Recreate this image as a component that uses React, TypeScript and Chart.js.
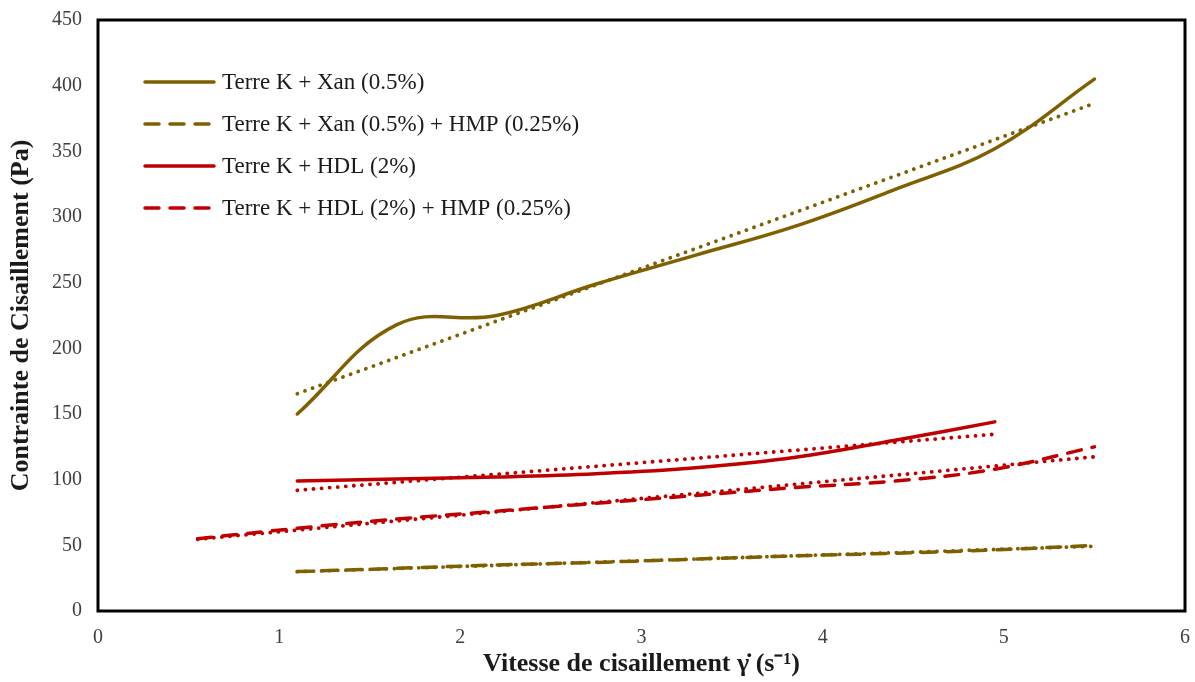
import React, { useEffect, useRef } from "react";
import { Chart, registerables } from "chart.js";

Chart.register(...registerables);

// ---- data ----
const seriesLabels = [
  "Terre K + Xan (0.5%)",
  "Terre K + Xan (0.5%) + HMP (0.25%)",
  "Terre K + HDL (2%)",
  "Terre K + HDL (2%) + HMP (0.25%)",
];

const xanX = [1.1, 1.65, 2.2, 2.75, 3.3, 3.85, 4.4, 4.95, 5.5];
const xanY = [150, 218, 225, 249, 271, 293, 321, 352, 405];

const xanHmpX = [1.1, 1.65, 2.2, 2.75, 3.3, 3.85, 4.4, 4.95, 5.5];
const xanHmpY = [30, 32.5, 35, 37, 39.5, 42, 44, 46.5, 50];

const hdlX = [1.1, 1.65, 2.2, 2.75, 3.3, 3.85, 4.4, 4.95];
const hdlY = [99, 100.5, 102, 104.5, 109, 117, 130, 144];

const hdlHmpX = [0.55, 1.1, 1.65, 2.2, 2.75, 3.3, 3.85, 4.4, 4.95, 5.5];
const hdlHmpY = [55, 63, 70, 76, 82, 88, 94, 99, 108, 125];

const xTickMin = 0;
const xTickMax = 6;
const yTickMin = 0;
const yTickMax = 450;
const yTickStep = 50;

const xTitle = "Vitesse de cisaillement \u03b3\u0307 (s\u207b\u00b9)";
const yTitle = "Contrainte de Cisaillement (Pa)";

const BROWN = "#7F6000";
const RED = "#C00000";

// linear trendline (least squares), as Excel does
function trend(xs: number[], ys: number[]) {
  const n = xs.length;
  const mx = xs.reduce((a, b) => a + b, 0) / n;
  const my = ys.reduce((a, b) => a + b, 0) / n;
  let sxy = 0,
    sxx = 0;
  for (let i = 0; i < n; i++) {
    sxy += (xs[i] - mx) * (ys[i] - my);
    sxx += (xs[i] - mx) * (xs[i] - mx);
  }
  const b = sxy / sxx;
  const a = my - b * mx;
  const x0 = xs[0];
  const x1 = xs[n - 1];
  return [
    { x: x0, y: a + b * x0 },
    { x: x1, y: a + b * x1 },
  ];
}

const pts = (xs: number[], ys: number[]) => xs.map((x, i) => ({ x, y: ys[i] }));

const FONT = "'Liberation Serif', 'Times New Roman', serif";
const DASH = [14, 11];
const DOT = [0.1, 8];

const legendItems = [
  { color: BROWN, dash: [] as number[] },
  { color: BROWN, dash: DASH },
  { color: RED, dash: [] as number[] },
  { color: RED, dash: DASH },
];

const framePlugin = {
  id: "frame",
  beforeDatasetsDraw(chart: any) {
    const { ctx, chartArea } = chart;
    ctx.save();
    ctx.strokeStyle = "#000";
    ctx.lineWidth = 3;
    ctx.strokeRect(chartArea.left, chartArea.top, chartArea.right - chartArea.left, chartArea.bottom - chartArea.top);
    ctx.restore();
  },
};

const legendPlugin = {
  id: "customLegend",
  afterDraw(chart: any) {
    const { ctx } = chart;
    ctx.save();
    legendItems.forEach((it, i) => {
      const y = 82 + i * 42;
      ctx.beginPath();
      ctx.strokeStyle = it.color;
      ctx.lineWidth = 3.5;
      ctx.lineCap = "round";
      ctx.setLineDash(it.dash);
      ctx.moveTo(145, y);
      ctx.lineTo(214, y);
      ctx.stroke();
      ctx.setLineDash([]);
      ctx.fillStyle = "#1a1a1a";
      ctx.font = `23px ${FONT}`;
      ctx.textBaseline = "middle";
      ctx.textAlign = "left";
      ctx.fillText(seriesLabels[i], 222, y + 1);
    });
    ctx.restore();
  },
};

export default function App() {
  const ref = useRef<HTMLCanvasElement | null>(null);

  useEffect(() => {
    if (!ref.current) return;
    const mainLine = (label: string, data: any[], color: string, dash: number[]) => ({
      label,
      data,
      borderColor: color,
      backgroundColor: color,
      borderWidth: 3.5,
      borderDash: dash,
      borderCapStyle: "round" as const,
      pointRadius: 0,
      tension: 0.4,
      fill: false,
    });
    const trendLine = (label: string, data: any[], color: string) => ({
      label,
      data,
      borderColor: color,
      backgroundColor: color,
      borderWidth: 3.8,
      borderDash: DOT,
      borderCapStyle: "round" as const,
      pointRadius: 0,
      tension: 0,
      fill: false,
    });

    const chart = new Chart(ref.current, {
      type: "line",
      data: {
        datasets: [
          trendLine("trend1", trend(xanX, xanY), BROWN),
          trendLine("trend2", trend(xanHmpX, xanHmpY), BROWN),
          trendLine("trend3", trend(hdlX, hdlY), RED),
          trendLine("trend4", trend(hdlHmpX, hdlHmpY), RED),
          mainLine(seriesLabels[0], pts(xanX, xanY), BROWN, []),
          mainLine(seriesLabels[1], pts(xanHmpX, xanHmpY), BROWN, DASH),
          mainLine(seriesLabels[2], pts(hdlX, hdlY), RED, []),
          mainLine(seriesLabels[3], pts(hdlHmpX, hdlHmpY), RED, DASH),
        ],
      },
      options: {
        animation: false,
        responsive: true,
        maintainAspectRatio: false,
        layout: { padding: { left: 0, top: 20, right: 10, bottom: 0 } },
        plugins: {
          legend: { display: false },
          tooltip: { enabled: false },
        },
        scales: {
          x: {
            type: "linear",
            min: xTickMin,
            max: xTickMax,
            ticks: {
              stepSize: 1,
              color: "#404040",
              font: { family: FONT, size: 20 },
              padding: 15,
            },
            grid: { display: false, drawTicks: false },
            border: { display: false },
            title: {
              display: true,
              text: xTitle,
              color: "#1a1a1a",
              font: { family: FONT, size: 26, weight: "bold" },
              padding: { top: 0, bottom: 2 },
            },
            afterFit: (s: any) => {
              s.height = 71;
              s.paddingLeft = 0;
              s.paddingRight = 0;
            },
          },
          y: {
            type: "linear",
            min: yTickMin,
            max: yTickMax,
            ticks: {
              stepSize: yTickStep,
              color: "#404040",
              font: { family: FONT, size: 20 },
              padding: 16,
            },
            grid: { display: false, drawTicks: false },
            border: { display: false },
            title: {
              display: true,
              text: yTitle,
              color: "#1a1a1a",
              font: { family: FONT, size: 26, weight: "bold" },
              padding: { top: 6, bottom: 0 },
            },
            afterFit: (s: any) => {
              s.width = 98;
              s.paddingTop = 0;
              s.paddingBottom = 0;
            },
          },
        },
      },
      plugins: [framePlugin, legendPlugin],
    });
    return () => chart.destroy();
  }, []);

  return (
    <div style={{ position: "fixed", left: 0, top: 0, width: 1195, height: 682, background: "#fff" }}>
      <canvas ref={ref} />
    </div>
  );
}
